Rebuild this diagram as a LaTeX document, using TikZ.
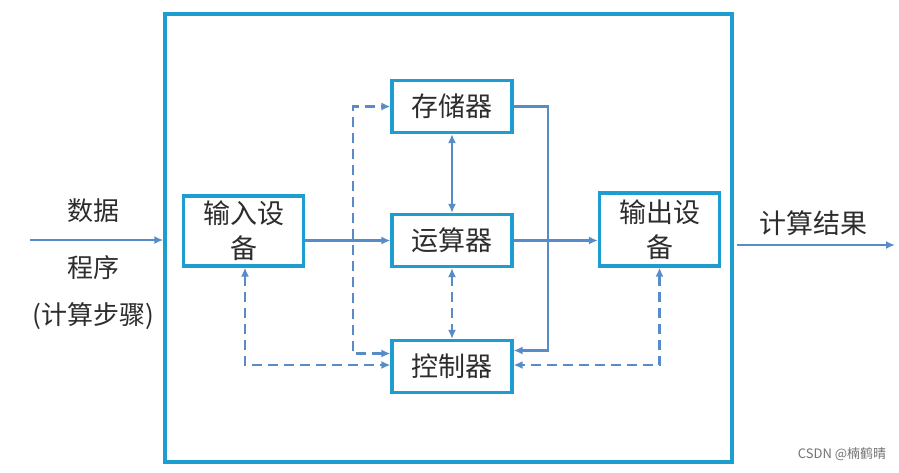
\documentclass[tikz,border=0pt]{standalone}
\usepackage{fontspec}
\newfontfamily\cjk{Noto Sans CJK SC}
\usetikzlibrary{arrows.meta}
\definecolor{boxc}{RGB}{30,158,208}
\definecolor{linec}{RGB}{88,140,200}
\definecolor{txt}{RGB}{45,45,45}
\begin{document}
\begin{tikzpicture}[x=1pt,y=-1pt,
  box/.style={draw=boxc, line width=3.2pt, minimum width=120pt, minimum height=52pt,
    inner sep=0pt, font=\cjk\fontsize{27}{35}\selectfont, text=txt, align=center},
  lbl/.style={font=\cjk\fontsize{26}{30}\selectfont, text=txt, inner sep=0pt},
  tip/.style={Latex[length=9pt,width=8pt]},
  conn/.style={draw=linec, line width=2.3pt, -{Latex[length=9pt,width=8pt]}},
  biconn/.style={draw=linec, line width=2.3pt, {Latex[length=9pt,width=8pt]}-{Latex[length=9pt,width=8pt]}},
  dconn/.style={biconn, dash pattern=on 10pt off 6pt}]
\useasboundingbox (0,0) rectangle (899,472);
\fill[white] (0,0) rectangle (899,472);
% outer frame
\node[draw=boxc, line width=3.4pt, minimum width=567pt, minimum height=448pt, inner sep=0pt] (frame) at (448.5,238) {};
% boxes
\node[box] (mem) at (452,106.5) {存储器};
\node[box] (alu) at (452,240.5) {运算器};
\node[box] (ctl) at (452,366.5) {控制器};
\node[box, minimum height=70pt] (in) at (243.5,231) {输入设\\备};
\node[box, minimum height=73pt] (out) at (659.5,229.5) {输出设\\备};
% outside labels
\node[lbl] (l1) at (93,211) {数据};
\node[lbl] (l2) at (93,268) {程序};
\node[lbl] (l3) at (93,316) {(计算步骤)};
\node[lbl, font=\cjk\fontsize{27}{30}\selectfont] (l4) at (813,223) {计算结果};
\node[font=\cjk\fontsize{13}{15}\selectfont, text=black!55, inner sep=0pt] (wm) at (842,454) {CSDN @楠鹤晴};
% input/output arrows
\coordinate (inS) at (30,240);
\coordinate (outE) at (895,245);
\coordinate (outS) at (737,245);
\draw[conn] (inS) -- (inS -| frame.west);
\draw[conn] (outS) -- (outE);
% solid connections
\draw[conn] (in.east |- alu.west) -- (alu.west);
\draw[conn] (alu.east) -- (out.west |- alu.east);
\draw[biconn] (mem.south) -- (alu.north);
\coordinate (ctlER) at ([yshift=16pt]ctl.east);
\coordinate (ctlWU) at ([yshift=13pt]ctl.west);
\coordinate (ctlWL) at ([yshift=1.5pt]ctl.west);
\coordinate (ctlEL) at ([yshift=1.5pt]ctl.east);
\coordinate (inB) at ([xshift=1.5pt]in.south);
\coordinate (mr) at (548,0);
\draw[conn] (mem.east) -| (mr |- ctlER) -- (ctlER);
% dashed connections
\draw[dconn] (alu.south) -- (ctl.north);
\coordinate (dl) at (353,0);
\draw[dconn] (ctlWU) -| (dl |- mem.west) -- (mem.west);
\draw[dconn] (inB) |- (ctlWL);
\draw[dconn] (out.south) |- (ctlEL);
\end{tikzpicture}
\end{document}
